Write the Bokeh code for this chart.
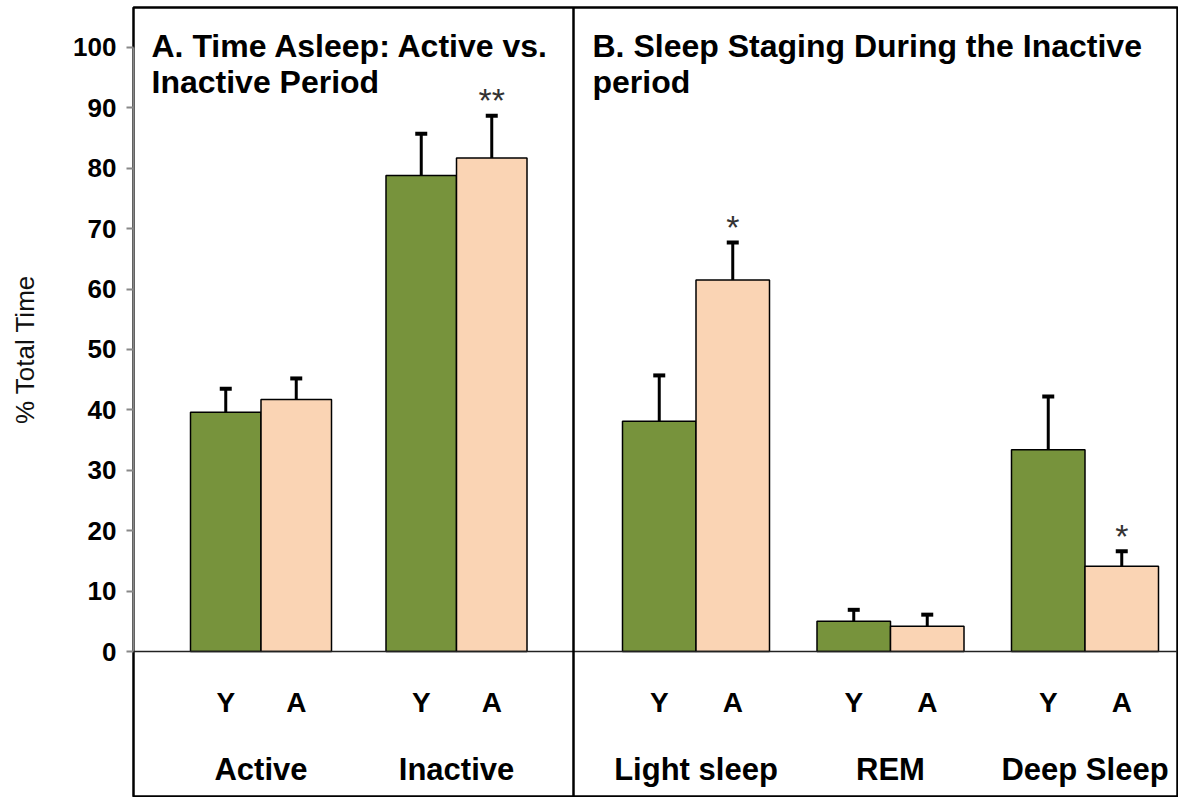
import math
from bokeh.plotting import figure
from bokeh.layouts import row
from bokeh.models import ColumnDataSource, Range1d, FixedTicker, Span, Whisker, TeeHead
from bokeh.core.properties import value
from bokeh.embed import file_html
from bokeh.resources import INLINE

# ---------------- data ----------------
groups = ["Active", "Inactive", "Light sleep", "REM", "Deep Sleep"]
group_panel = [0, 0, 1, 1, 1]
subgroups = ["Y", "A"]
young_mean = [39.6, 78.8, 38.1, 5.0, 33.4]
young_sem = [3.9, 6.9, 7.6, 1.9, 8.8]
aged_mean = [41.7, 81.7, 61.5, 4.2, 14.1]
aged_sem = [3.5, 7.0, 6.2, 1.9, 2.5]
aged_sig = ["", "**", "*", "", "*"]
panel_titles = [
    ["A. Time Asleep: Active vs.", "Inactive Period"],
    ["B. Sleep Staging During the Inactive", "period"],
]
y_ticks = [0, 10, 20, 30, 40, 50, 60, 70, 80, 90, 100]
y_label = "% Total Time"

# ---------------- style / layout ----------------
FONT = "Liberation Sans"
GREEN = "#77933C"
PEACH = "#FAD4B4"
FRAME_W = 1044
Y_MIN, Y_MAX = -24.0, 106.6
panel_layout = [dict(start=57, bw=70.5, gap=54.5, title_x=18),
                dict(start=489, bw=73.5, gap=47.5, title_x=459)]
divider_x = 440
SUB_Y = -8.4      # baseline of Y/A labels
GROUP_Y = -19.5   # baseline of group labels
TITLE_Y = [100.3, 94.2]
SIG_GAP = 2.6
LABEL_W = 50
LABEL_X = 24

xs_y, xs_a, widths, centers = [], [], [], []
count = [0, 0]
for pnl in group_panel:
    L = panel_layout[pnl]
    k = count[pnl]
    count[pnl] += 1
    left = L["start"] + k * (2 * L["bw"] + L["gap"])
    xs_y.append(left + L["bw"] / 2)
    xs_a.append(left + 1.5 * L["bw"])
    widths.append(L["bw"])
    centers.append(left + L["bw"])

src_y = ColumnDataSource(dict(x=xs_y, top=young_mean, w=widths,
                              lower=young_mean,
                              upper=[m + s for m, s in zip(young_mean, young_sem)]))
src_a = ColumnDataSource(dict(x=xs_a, top=aged_mean, w=widths,
                              lower=aged_mean,
                              upper=[m + s for m, s in zip(aged_mean, aged_sem)]))

# ---- narrow strip holding the y axis title ----
lab = figure(width=LABEL_W, height=797,
             x_range=Range1d(0, LABEL_W), y_range=Range1d(Y_MIN, Y_MAX),
             x_axis_location=None, y_axis_location=None,
             toolbar_location=None, output_backend="svg",
             min_border_left=0, min_border_right=0, min_border_top=7, min_border_bottom=1)
lab.outline_line_color = None
lab.grid.visible = False
lab.border_fill_color = "white"
lab.text(x=[LABEL_X], y=[(y_ticks[0] + y_ticks[-1]) / 2], text=[y_label], angle=math.pi / 2,
         text_align="center", text_baseline="middle",
         text_font=value(FONT), text_font_size="26px", text_color="#111111")

# ---- main chart ----
p = figure(width=1178 - LABEL_W, height=797,
           x_range=Range1d(0, FRAME_W), y_range=Range1d(Y_MIN, Y_MAX),
           x_axis_location=None, toolbar_location=None, output_backend="svg",
           min_border_left=133 - LABEL_W, min_border_right=1, min_border_top=7, min_border_bottom=1)
p.outline_line_color = "black"
p.outline_line_width = 2.5
p.grid.visible = False
p.background_fill_color = "white"
p.border_fill_color = "white"

ax = p.yaxis[0]
ax.ticker = FixedTicker(ticks=y_ticks)
ax.bounds = (0, 100)
ax.axis_line_color = "#888888"
ax.axis_line_width = 2
ax.major_tick_line_color = "#888888"
ax.major_tick_line_width = 2
ax.major_tick_out = 7
ax.major_tick_in = 0
ax.minor_tick_line_color = None
ax.major_label_text_font = FONT
ax.major_label_text_font_style = "bold"
ax.major_label_text_font_size = "26px"
ax.major_label_text_color = "black"
ax.major_label_standoff = 10

# bars
p.vbar(x="x", top="top", width="w", bottom=0, source=src_y,
       fill_color=GREEN, line_color="black", line_width=1.5)
p.vbar(x="x", top="top", width="w", bottom=0, source=src_a,
       fill_color=PEACH, line_color="black", line_width=1.5)

# error bars (upper only)
for src in (src_y, src_a):
    p.add_layout(Whisker(base="x", lower="lower", upper="upper", source=src,
                         line_color="black", line_width=3,
                         upper_head=TeeHead(size=12, line_width=4, line_color="black"),
                         lower_head=None))

# significance marks
p.text(x=xs_a, y=[m + s + SIG_GAP for m, s in zip(aged_mean, aged_sem)], text=aged_sig,
       text_align="center", text_baseline="alphabetic",
       text_font=value(FONT), text_font_size="34px", text_color="#333333")

# baseline and divider
p.add_layout(Span(location=0, dimension="width", line_color="#222222", line_width=1.5))
p.add_layout(Span(location=divider_x, dimension="height", line_color="black", line_width=2.5))

# sub labels
p.text(x=xs_y + xs_a, y=[SUB_Y] * (2 * len(groups)),
       text=[subgroups[0]] * len(groups) + [subgroups[1]] * len(groups),
       text_align="center", text_baseline="alphabetic",
       text_font=value(FONT), text_font_style="bold", text_font_size="28px", text_color="black")
# group labels
p.text(x=centers, y=[GROUP_Y] * len(groups), text=groups,
       text_align="center", text_baseline="alphabetic",
       text_font=value(FONT), text_font_style="bold", text_font_size="31px", text_color="black")

# panel titles
for L, lines in zip(panel_layout, panel_titles):
    p.text(x=[L["title_x"]] * len(lines), y=TITLE_Y[:len(lines)], text=lines,
           text_align="left", text_baseline="alphabetic",
           text_font=value(FONT), text_font_style="bold", text_font_size="32px", text_color="black")

layout = row(lab, p, spacing=0)
open("out.html", "w").write(file_html(layout, INLINE))
